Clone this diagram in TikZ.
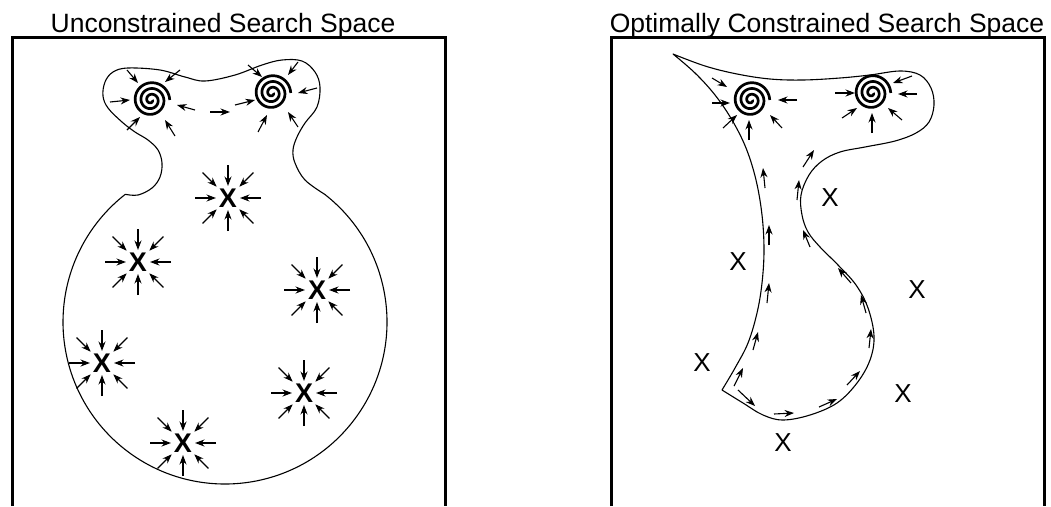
\documentclass[tikz,border=0pt]{standalone}
\usepackage{fontspec}
\setmainfont{Liberation Sans}
\usetikzlibrary{arrows.meta,calc}
\begin{document}
\begin{tikzpicture}[x=1pt,y=-1pt,
  panel/.style={line width=3pt},
  outline/.style={line width=1.1pt, line join=round},
  arr/.style={line width=1.1pt,-{Stealth[length=9.5pt,width=7pt]}},
  spiralline/.style={line width=2.7pt},
  title/.style={font=\fontsize{26.5}{30}\selectfont, anchor=base, inner sep=0pt},
  lx/.style={font=\fontsize{27}{30}\selectfont\bfseries, inner sep=0pt},
  rx/.style={font=\fontsize{26}{28}\selectfont, inner sep=0pt}]
\useasboundingbox (0,0) rectangle (1051,506);
\fill[white] (0,0) rectangle (1051,506);

% titles
\node[title] (t1) at (223,32) {Unconstrained Search Space};
\node[title] (t2) at (827,32) {Optimally Constrained Search Space};

% panels
\draw[panel] (12,506) -- (12,37.5) -- (445,37.5) -- (445,506);
\draw[panel] (611,506) -- (611,37.5) -- (1044,37.5) -- (1044,506);

% ---------- left region ----------
\coordinate (c) at (225,322);
\draw[outline] ($(c)+(-52:162)$) arc[start angle=-52, end angle=232, radius=162]
  -- plot[smooth, tension=0.6] coordinates {(125.3,194.3) (138,195) (152,188) (160,177) (162,163) (158,150) (148,140) (135,132) (122,122) (108,108) (103,96) (105,82) (113,72) (128,68) (160,70) (185,77) (205,81) (235,75) (262,65) (282,60) (302,61) (315,72) (320,87) (317,107) (305,123) (297,137) (293,150) (295,163) (305,180) (324.7,194.3)}
  -- cycle;

% spirals
\coordinate (s1) at (151,100);
\coordinate (s2) at (272,93);
\coordinate (s3) at (751,100);
\coordinate (s4) at (872,93);
\foreach \s in {s1,s2,s3,s4}
  \draw[spiralline, shift={(\s)}] plot[domain=0:1080, samples=220, smooth, variable=\t]
    ({(1.3+5.8*\t/360)*cos(\t)}, {(1.3+5.8*\t/360)*sin(\t)});

% arrows round the left spirals
\draw[arr] (127,70) -- (138,83);
\draw[arr] (180,70) -- (165,82);
\draw[arr] (110,102) -- (130,100);
\draw[arr] (127,130) -- (140,117);
\draw[arr] (175,136) -- (165,120);
\draw[arr] (195,110) -- (177,105);
\draw[arr] (210,112) -- (230,112);
\draw[arr] (248,65) -- (262,77);
\draw[arr] (298,62) -- (288,75);
\draw[arr] (235,105) -- (255,100);
\draw[arr] (317,88) -- (298,93);
\draw[arr] (258,132) -- (267,115);
\draw[arr] (298,127) -- (288,112);

% X clusters (left)
\node[lx] (x1) at (228,198) {X};
\node[lx] (x2) at (138,262) {X};
\node[lx] (x3) at (317,290) {X};
\node[lx] (x4) at (102,363) {X};
\node[lx] (x5) at (304,393) {X};
\node[lx] (x6) at (183,443) {X};
\foreach \i in {1,...,6} {
  \foreach \a in {0,90,180,270}
    \draw[arr] ($(x\i)+(\a:33)$) -- ($(x\i)+(\a:12)$);
  \foreach \a in {45,135,225,315}
    \draw[arr] ($(x\i)+(\a:36)$) -- ($(x\i)+(\a:16)$);
}

% ---------- right region ----------
\draw[outline] plot[smooth, tension=0.6] coordinates {(673,54) (705,66) (737,74) (770,79) (803,80) (840,78) (870,75) (900,71) (920,75) (931,88) (934,105) (929,122) (916,133) (895,141) (865,147) (840,152) (822,161) (809,175) (801,195) (802,215) (808,232) (820,247) (838,265) (856,285) (868,308) (874,336) (870,360) (857,383) (837,403) (810,415) (783,420) (763,415) (743,403) (722,390)}
  -- plot[smooth, tension=0.6] coordinates {(722,390) (735,368) (748,343) (757,313) (762,283) (764,250) (762,215) (756,180) (746,148) (732,120) (715,95) (695,73) (673,54)}
  -- cycle;

% arrows round the right spirals
\draw[arr] (712,78) -- (727,87);
\draw[arr] (712,103) -- (730,103);
\draw[arr] (797,100) -- (778,100);
\draw[arr] (723,128) -- (737,115);
\draw[arr] (749,140) -- (749,120);
\draw[arr] (782,128) -- (770,115);
\draw[arr] (912,76) -- (893,83);
\draw[arr] (835,93) -- (855,93);
\draw[arr] (917,94) -- (898,94);
\draw[arr] (842,118) -- (857,108);
\draw[arr] (872,133) -- (872,113);
\draw[arr] (902,120) -- (888,108);

% flow arrows along the channel
\draw[arr] (765,188) -- (763,168);
\draw[arr] (803,167) -- (814,150);
\draw[arr] (797,200) -- (799,180);
\draw[arr] (769,245) -- (769,225);
\draw[arr] (810,247) -- (803,230);
\draw[arr] (767,303) -- (769,283);
\draw[arr] (851,283) -- (838,268);
\draw[arr] (866,313) -- (861,295);
\draw[arr] (753,350) -- (758,332);
\draw[arr] (869,348) -- (871,329);
\draw[arr] (734,386) -- (743,368);
\draw[arr] (738,390) -- (755,406);
\draw[arr] (774,414) -- (794,413);
\draw[arr] (819,407) -- (837,399);
\draw[arr] (847,385) -- (860,371);

% X marks (right)
\node[rx] (y1) at (830,198) {X};
\node[rx] (y2) at (738,262) {X};
\node[rx] (y3) at (917,290) {X};
\node[rx] (y4) at (702,363) {X};
\node[rx] (y5) at (903,394) {X};
\node[rx] (y6) at (783,443) {X};
\end{tikzpicture}
\end{document}
